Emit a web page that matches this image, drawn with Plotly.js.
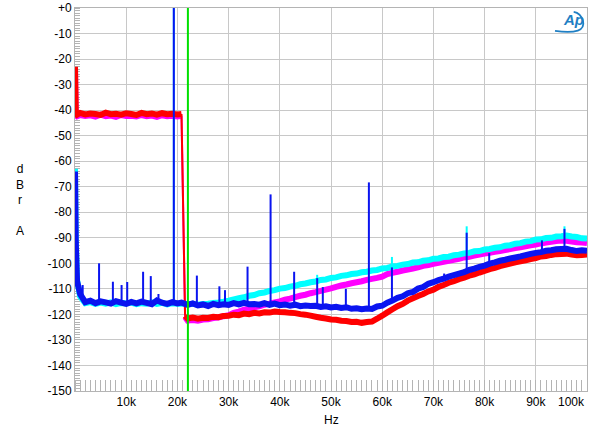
<!DOCTYPE html>
<html><head><meta charset="utf-8">
<script src="https://cdn.plot.ly/plotly-3.0.1.min.js"></script>
<style>html,body{margin:0;padding:0;background:#fff}#chart{width:600px;height:444px}</style>
</head><body><div id="chart"></div>
<script>
// Frequency grid (kHz)
const freqK = [0, 0.15, 0.4,
  1,2,3,4,5,6,7,8,9,10,
  11,12,13,14,15,16,17,18,19,20,
  20.8, 21.5,
  22,23,24,25,26,27,28,29,30,
  31,32,33,34,35,36,37,38,39,40,
  41,42,43,44,45,46,47,48,49,50,
  51,52,53,54,55,56,57,58,59,60,
  61,62,63,64,65,66,67,68,69,70,
  71,72,73,74,75,76,77,78,79,80,
  81,82,83,84,85,86,87,88,89,90,
  91,92,93,94,95,96,97,98,99,100];

// Left channel, 19.1kHz tone (blue)
const blueDb = [-64, -92, -107,
  -112, -115.2, -114.6, -115.6, -114.9, -115.3, -115.8, -114.8, -115.4, -115.9,
  -115.1, -115.7, -115, -115.5, -116, -114.5, -115.4, -115.9, -115.2, -115.7,
  -115.4, -115.9,
  -116.3, -115.7, -116.5, -116.1, -116.7, -115.9, -116.4, -116, -116.3,
  -115.6, -116.1, -115.5, -116, -115.9, -116.2, -115.6, -116.3, -115.8, -116.4,
  -116.1, -116.6, -116.2, -116.8, -116.5, -116.7, -116.6, -117.1, -116.8, -117.3,
  -117, -117.5, -117.2, -117.8, -117.6, -118, -117.7, -117.9, -116.9, -116.6,
  -115.4, -114.6, -113.5, -112.9, -111.7, -111.2, -109.9, -109.3, -108, -107.4,
  -106.6, -106, -105.2, -104.6, -104, -103.5, -102.6, -102.1, -101.4, -100.9,
  -100.1, -99.6, -99, -98.6, -98.1, -97.7, -97.3, -96.8, -96.3, -95.9,
  -95.6, -95.1, -94.9, -94.5, -94.4, -94.3, -94.8, -95.2, -94.9, -95.1];

// Left channel, white noise (red)
const redDb = [-23, -41.2, -41.8,
  -41.1, -41.7, -41.3, -41.5, -41.9, -41, -41.6, -41.4, -41.8, -41.2,
  -41.5, -41.9, -41.1, -41.6, -41.3, -41.8, -41.2, -41.6, -41.4, -41.7,
  -41.5, -120.5,
  -121.6, -121.2, -121.7, -121.3, -121.4, -120.9, -121.1, -120.6, -120.5,
  -120.1, -120.3, -119.7, -119.9, -119.4, -119.6, -119.2, -119.3, -118.9, -119.1,
  -119.2, -119.4, -119.5, -119.9, -120.1, -120.5, -120.9, -121.3, -121.6, -122,
  -122.1, -122.5, -122.6, -123, -122.9, -123.3, -123, -122.8, -121.7, -120.5,
  -119.2, -118, -116.8, -115.9, -114.6, -113.7, -112.8, -112, -111, -110.3,
  -109.2, -108.5, -107.6, -107, -106.2, -105.6, -104.8, -104.3, -103.6, -103,
  -102.3, -101.8, -101.1, -100.6, -100.1, -99.6, -99.2, -98.8, -98.3, -97.9,
  -97.3, -97.1, -96.7, -96.4, -96.3, -96.2, -96.6, -96.8, -96.7, -96.5];

// Right channel, white noise (magenta)
const magentaDb = [-24, -42, -42.4,
  -41.9, -42.3, -42, -42.5, -41.8, -42.4, -42.1, -42.6, -41.9, -42.3,
  -42.2, -42.5, -41.9, -42.4, -42.1, -42.6, -42, -42.4, -42.2, -42.5,
  -42.2, -121,
  -122.4, -122.2, -122.5, -122, -121.9, -121.4, -121.2, -120.7, -120.3,
  -119.4, -118.9, -118.2, -117.9, -117.2, -116.8, -116.2, -115.8, -115.3, -114.9,
  -114.2, -113.8, -113.2, -112.7, -112.3, -111.7, -111.3, -110.8, -110.3, -109.8,
  -109.2, -108.7, -108.3, -107.8, -107.4, -107, -106.5, -106.1, -105.7, -105.2,
  -104.2, -103.7, -103.3, -102.8, -102.4, -102, -101.6, -101, -100.7, -100.2,
  -99.8, -99.4, -99, -98.6, -98.2, -97.7, -97.4, -97, -96.6, -96.2,
  -95.9, -95.5, -95.2, -94.8, -94.4, -94, -93.7, -93.3, -92.9, -92.6,
  -92.2, -91.9, -91.6, -91.3, -91.1, -91.2, -91.5, -91.7, -91.8, -92];

// Right channel, 19.1kHz tone (cyan)
const cyanDb = [-63, -91, -106.5,
  -113, -115.6, -115.2, -115.9, -115.4, -115.8, -115.3, -116, -115.5, -115.7,
  -115.4, -116, -115.6, -115.8, -115.3, -115.9, -115.5, -116.1, -115.6, -115.8,
  -115.7, -115.9,
  -116, -115.8, -116.2, -115.9, -115.8, -115.5, -115.3, -115, -114.6,
  -114.1, -113.7, -113.3, -112.7, -112.4, -111.7, -111.4, -110.8, -110.5, -109.9,
  -109.7, -109.1, -108.8, -108.2, -107.9, -107.4, -107.1, -106.5, -106.3, -105.7,
  -105.5, -104.9, -104.7, -104.2, -104, -103.5, -103.3, -102.8, -102.6, -102,
  -101.8, -101.2, -101, -100.5, -100.3, -99.7, -99.6, -99, -98.8, -98.2,
  -98.1, -97.5, -97.4, -96.8, -96.6, -96.1, -95.9, -95.3, -95.2, -94.6,
  -94.4, -93.9, -93.7, -93.1, -92.9, -92.3, -92.1, -91.5, -91.3, -90.7,
  -90.6, -90.1, -90, -89.5, -89.4, -89.1, -89.5, -89.7, -90.2, -90.3];

// Discrete spectral lines (blue)
const blueSpikeK    = [1.5, 4.7, 7.4, 9.1, 10.2, 13.3, 14.8, 16.3, 19.3, 23.8, 28.2, 29.3, 33.7, 38.2, 42.8, 47.3, 48.4, 52.9, 57.4, 61.9, 72.1, 76.5, 80.9, 91.2, 95.6];
const blueSpikeBase = [-113, -114, -115, -115, -115, -115, -115, -115, -115, -116, -116, -116, -115.5, -116, -116, -116.5, -116.5, -117, -117.5, -115, -106, -103.5, -100, -95.5, -94];
const blueSpikeTop  = [-108.5, -100, -107.2, -108.5, -107.3, -103.3, -105, -112, 0, -104.8, -109, -110.5, -101.3, -73, -103.3, -105.8, -109.3, -110, -68.3, -101.6, -104, -88, -96, -91, -86.5];
// Discrete spectral lines (cyan)
const cyanSpikeK    = [19.3, 47.3, 61.9, 76.5, 95.6];
const cyanSpikeBase = [-115, -107, -101.5, -96, -89];
const cyanSpikeTop  = [0, -104.5, -97.5, -85.5, -85.5];

const nyquistK = 22.05;

const xTickVals = [10, 20, 30, 40, 50, 60, 70, 80, 90];
const xTickText = ['10k', '20k', '30k', '40k', '50k', '60k', '70k', '80k', '90k'];
const yTickVals = [0, -10, -20, -30, -40, -50, -60, -70, -80, -90, -100, -110, -120, -130, -140, -150];
const yTickText = ['+0', '-10', '-20', '-30', '-40', '-50', '-60', '-70', '-80', '-90', '-100', '-110', '-120', '-130', '-140', '-150'];

const BLUE = '#0a14f0', RED = '#ff0000', MAGENTA = '#ff00ff', CYAN = '#00ffff', GREEN = '#00e000';

function lineTrace(xs, ys, color, width) {
  return {x: xs, y: ys, type: 'scatter', mode: 'lines', line: {color: color, width: width, simplify: false}, hoverinfo: 'skip'};
}
// Noise traces: thick band, except the steep anti-alias filter edge which is drawn thin
const EDGE = freqK.indexOf(20.8);
function noiseTraces(ys, color) {
  return [
    lineTrace(freqK.slice(0, EDGE + 1), ys.slice(0, EDGE + 1), color, 6),
    lineTrace(freqK.slice(EDGE, EDGE + 2), ys.slice(EDGE, EDGE + 2), color, 2),
    lineTrace(freqK.slice(EDGE + 1), ys.slice(EDGE + 1), color, 6)
  ];
}
function spikeTrace(fs, bases, tops, color, width) {
  const x = [], y = [];
  fs.forEach((f, i) => { x.push(f, f, null); y.push(bases[i], tops[i], null); });
  return {x: x, y: y, type: 'scatter', mode: 'lines', line: {color: color, width: width}, hoverinfo: 'skip'};
}

const data = [].concat(
  noiseTraces(magentaDb, MAGENTA),
  [lineTrace(freqK, cyanDb, CYAN, 6),
   spikeTrace(cyanSpikeK, cyanSpikeBase, cyanSpikeTop, CYAN, 2)],
  noiseTraces(redDb, RED),
  [lineTrace(freqK, blueDb, BLUE, 6),
   spikeTrace(blueSpikeK, blueSpikeBase, blueSpikeTop, BLUE, 2)]
);

const FONT = 'Liberation Sans, Arial, Helvetica, sans-serif';
const layout = {
  width: 600, height: 444,
  margin: {l: 75, r: 13, t: 8, b: 53},
  paper_bgcolor: '#ffffff', plot_bgcolor: '#ffffff',
  showlegend: false,
  font: {family: FONT, size: 12, color: '#000'},
  xaxis: {
    range: [0, 100], tickmode: 'array', tickvals: xTickVals, ticktext: xTickText,
    ticks: '', showgrid: true, gridcolor: '#c8c8c8', gridwidth: 1, layer: 'below traces',
    showline: true, linecolor: '#b4b4b4', linewidth: 1, mirror: true, zeroline: false,
    tickfont: {family: FONT, size: 12, color: '#000'},
    minor: {tickmode: 'linear', tick0: 0, dtick: 1, ticks: 'inside', ticklen: 11, tickcolor: '#b4b4b4', tickwidth: 1, showgrid: false},
    fixedrange: true
  },
  yaxis: {
    range: [-150, 0], tickmode: 'array', tickvals: yTickVals, ticktext: yTickText,
    ticks: '', showgrid: true, gridcolor: '#c8c8c8', gridwidth: 1, layer: 'below traces',
    showline: true, linecolor: '#b4b4b4', linewidth: 1, mirror: true, zeroline: false,
    tickfont: {family: FONT, size: 12, color: '#000'},
    minor: {tickmode: 'linear', tick0: 0, dtick: 1, ticks: 'inside', ticklen: 5, tickcolor: '#b4b4b4', tickwidth: 1, showgrid: false},
    fixedrange: true
  },
  shapes: [
    {type: 'line', xref: 'x', yref: 'paper', x0: nyquistK, x1: nyquistK, y0: 0, y1: 1, line: {color: GREEN, width: 2}, layer: 'above'},
    {type: 'path', xref: 'paper', yref: 'paper', layer: 'above',
     path: 'M 0.9375,0.9400 Q 0.9990,0.9290 0.9922,0.9660 Q 0.9880,0.9870 0.9740,0.9900',
     line: {color: '#1f7fc4', width: 1.8}}
  ],
  annotations: [
    {text: 'Hz', xref: 'paper', yref: 'paper', x: 0.5, y: -0.0757, xanchor: 'center', yanchor: 'middle', showarrow: false, font: {family: FONT, size: 12, color: '#000'}},
    {text: '100k', xref: 'x', yref: 'paper', x: 100, y: -0.0287, xanchor: 'right', yanchor: 'middle', showarrow: false, font: {family: FONT, size: 12, color: '#000'}},
    {text: 'd<br>B<br>r<br><br>A', xref: 'paper', yref: 'paper', x: -0.1074, y: 0.5, xanchor: 'center', yanchor: 'middle', showarrow: false, font: {family: FONT, size: 12, color: '#000'}},
    {text: '<i><b>Ap</b></i>', xref: 'paper', yref: 'paper', x: 0.9745, y: 0.9700, xanchor: 'center', yanchor: 'middle', showarrow: false, font: {family: FONT, size: 15, color: '#1f7fc4'}}
  ]
};

Plotly.newPlot('chart', data, layout, {staticPlot: true, displayModeBar: false});
</script>
</body></html>
